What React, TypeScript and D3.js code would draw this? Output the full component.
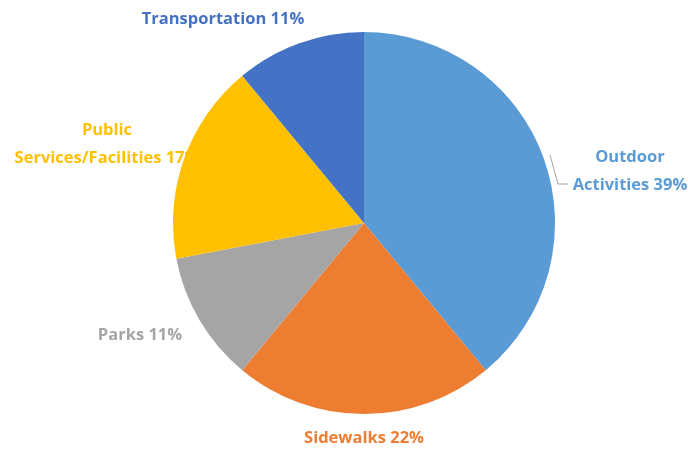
import React from "react";
import * as d3 from "d3";

const categories = ["Outdoor Activities", "Sidewalks", "Parks", "Public Services/Facilities", "Transportation"];
const values = [39, 22, 11, 17, 11];
const labelLines = [
  ["Outdoor", "Activities 39%"],
  ["Sidewalks 22%"],
  ["Parks 11%"],
  ["Public", "Services/Facilities 17%"],
  ["Transportation 11%"],
];
const colors = ["#5B9BD5", "#ED7D31", "#A5A5A5", "#FFC000", "#4472C4"];
const labelColors = ["#5B9BD5", "#ED7D31", "#A5A5A5", "#FFC000", "#4472C4"];

const W = 688;
const H = 451;
const cx = 364;
const cy = 223;
const R = 191;
// label anchor (center x, first baseline y)
const labelPos = [
  [630, 162],
  [364, 443],
  [140, 340],
  [107, 135],
  [223, 24],
];

export default function App() {
  const pie = d3.pie<number>().sort(null).value((d) => d)(values);
  const arc = d3.arc<d3.PieArcDatum<number>>().innerRadius(0).outerRadius(R);
  const lineH = 28;
  return (
    <svg width={W} height={H} style={{ position: "absolute", left: 0, top: 0 }}>
      <defs>
        <filter id="glow" x="-10%" y="-30%" width="120%" height="160%">
          <feGaussianBlur stdDeviation="0.6" />
        </filter>
      </defs>
      <rect width={W} height={H} fill="#fff" />
      {categories.map((c, i) => (
        <text
          key={c}
          x={labelPos[i][0]}
          y={labelPos[i][1]}
          textAnchor="middle"
          fill={labelColors[i]}
          fontFamily="'Open Sans', 'Liberation Sans', sans-serif"
          fontWeight="bold"
          fontSize={16.5}
          filter="url(#glow)"
        >
          {labelLines[i].map((l, j) => (
            <tspan key={j} x={labelPos[i][0]} dy={j === 0 ? 0 : lineH}>
              {l}
            </tspan>
          ))}
        </text>
      ))}
      <g transform={`translate(${cx},${cy})`}>
        {pie.map((p, i) => (
          <path key={categories[i]} d={arc(p) || ""} fill={colors[i]} />
        ))}
      </g>
      <polyline
        points={`${550},${155} ${558},${184} ${568},${184}`}
        fill="none"
        stroke="#A6A6A6"
        strokeWidth={1}
      />
    </svg>
  );
}
